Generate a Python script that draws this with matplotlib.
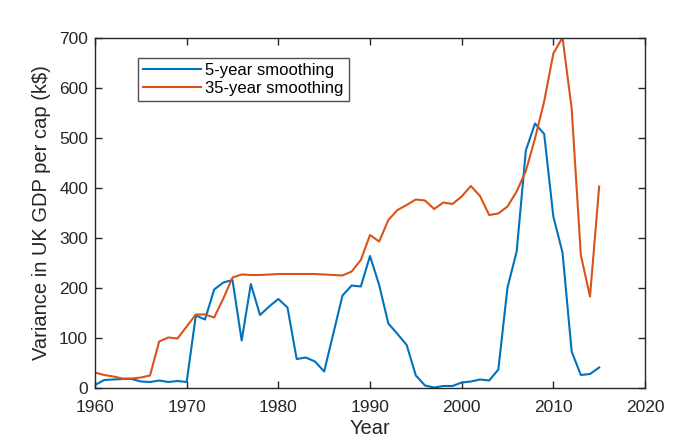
import matplotlib
matplotlib.use("Agg")
import matplotlib.pyplot as plt
import numpy as np

years = list(range(1960, 2016))
smooth5 = [6, 16, 17, 18, 18, 13, 12, 15, 12, 14, 12, 145, 137, 197, 211, 216, 95, 208,
           146, 163, 178, 161, 58, 61, 53, 33, 109, 185, 205, 203, 264, 206, 129, 108,
           86, 25, 5, 1, 4, 4, 11, 13, 17, 15, 37, 201, 273, 475, 529, 508, 343, 271,
           73, 26, 28, 41]
smooth35 = [31, 26, 23, 19, 19, 21, 25, 93, 101, 99, 123, 147, 147, 141, 179, 221, 227,
            226, 226, 227, 228, 228, 228, 228, 228, 227, 226, 225, 233, 256, 306, 293,
            336, 356, 366, 377, 375, 358, 371, 368, 383, 404, 384, 346, 349, 363, 393,
            434, 499, 573, 669, 701, 559, 266, 183, 403]
xticks = [1960, 1970, 1980, 1990, 2000, 2010, 2020]
yticks = [0, 100, 200, 300, 400, 500, 600, 700]

plt.rcParams['font.family'] = ['Liberation Sans', 'DejaVu Sans']

fig = plt.figure(figsize=(6.99, 4.37), dpi=100)
ax = fig.add_axes([95/699, 49/437, 550/699, 350/437])
ax.plot(years, smooth5, color='#0072BD', lw=1.5, label='5-year smoothing')
ax.plot(years, smooth35, color='#D95319', lw=1.5, label='35-year smoothing')
ax.set_xlim(1960, 2020)
ax.set_ylim(0, 700)
ax.set_xticks(xticks)
ax.set_yticks(yticks)
ax.tick_params(direction='in', top=True, right=True, length=5, width=1, labelsize=12.5,
               colors='#262626')
ax.tick_params(axis='x', pad=8.5)
ax.tick_params(axis='y', pad=5)
for s in ax.spines.values():
    s.set_color('#262626')
    s.set_linewidth(1)
ax.set_xlabel('Year', fontsize=14.5, color='#262626', labelpad=3)
ax.set_ylabel('Variance in UK GDP per cap (k$)', fontsize=14.5, color='#262626', labelpad=6)
leg = ax.legend(loc='upper left', bbox_to_anchor=(0.0776, 0.9437), fontsize=12,
                frameon=True, fancybox=False, edgecolor='#262626', handlelength=3.5,
                borderpad=0.3, labelspacing=0.2, handletextpad=0.25, borderaxespad=0)
leg.get_frame().set_linewidth(1)
fig.savefig('out.png', dpi=100)
